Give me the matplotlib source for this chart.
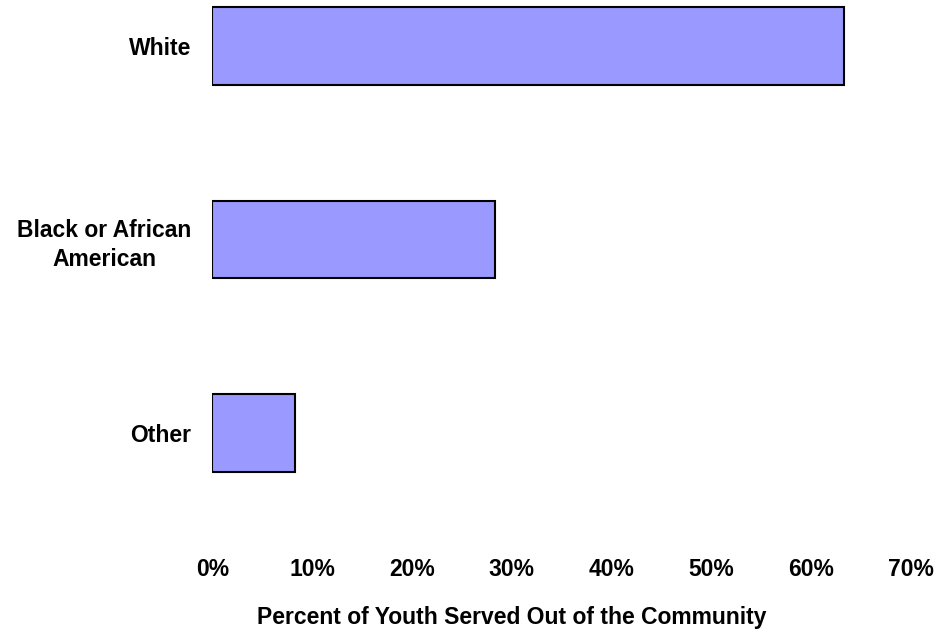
import matplotlib.pyplot as plt
from matplotlib.ticker import PercentFormatter

# data
categories = ["White", "Black or African\nAmerican", "Other"]
percents = [63.3, 28.3, 8.3]
xticks = [0, 10, 20, 30, 40, 50, 60, 70]

plt.rcParams['font.family'] = ['Liberation Sans', 'DejaVu Sans']
plt.rcParams['font.weight'] = 'bold'

fig = plt.figure(figsize=(9.4, 6.33), dpi=100)
ax = fig.add_axes([0.226, 0.139, 0.7426, 0.861])

ypos = [2, 1, 0]
ax.barh(ypos, percents, height=0.4, color="#9999FF", edgecolor="black", linewidth=1.5)

ax.set_xlim(0, 70)
ax.set_ylim(-0.579, 2.238)
ax.set_xticks(xticks)
ax.xaxis.set_major_formatter(PercentFormatter(decimals=0))
ax.set_yticks(ypos)
ax.set_yticklabels(categories, multialignment="center", linespacing=1.35)
ax.tick_params(axis="both", length=0, labelsize=16.5)
ax.tick_params(axis="y", pad=15)
ax.tick_params(axis="x", pad=9)
for s in ax.spines.values():
    s.set_visible(False)

fig.text(0.544, 0.025, "Percent of Youth Served Out of the Community",
         ha="center", va="center", fontsize=16.5, fontweight="bold")

plt.savefig("out.png", dpi=100)
plt.close()
